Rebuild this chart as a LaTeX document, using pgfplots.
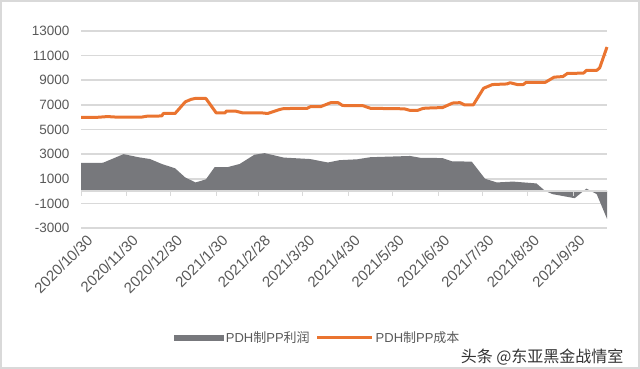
\documentclass[border=0pt]{standalone}
\usepackage{fontspec}
\setmainfont{Liberation Sans}
\newfontfamily\cjk{Noto Sans CJK SC}
\usepackage{pgfplots}
\pgfplotsset{compat=1.18}
\definecolor{cost}{HTML}{EA7430}
\definecolor{profit}{HTML}{77787C}
\definecolor{gridc}{HTML}{D9D9D9}
\definecolor{txt}{HTML}{595959}
\begin{document}
\begin{tikzpicture}
\useasboundingbox (0,0) rectangle (640pt,369pt);
\draw[gray!30, line width=2pt] (1pt,1pt) rectangle (639pt,368pt);
\begin{axis}[
  at={(81pt,141pt)}, anchor=south west,
  scale only axis, width=526pt, height=197pt,
  xmin=0, xmax=358, ymin=-3000, ymax=13000,
  scaled y ticks=false,
  axis line style={draw=none},
  major tick length=0pt,
  ytick={-3000,-1000,1000,3000,5000,7000,9000,11000,13000},
  yticklabels={-3000,-1000,1000,3000,5000,7000,9000,11000,13000},
  ymajorgrids, grid style={gridc, line width=1.6pt},
  xtick={0,31,61,92,121,151,182,212,243,273,304,335},
  xticklabels={2020/10/30,2020/11/30,2020/12/30,2021/1/30,2021/2/28,2021/3/30,2021/4/30,2021/5/30,2021/6/30,2021/7/30,2021/8/30,2021/9/30},
  xticklabel style={rotate=45, anchor=east, font=\fontsize{15}{17}\selectfont, text=txt, xshift=3pt, yshift=-13pt},
  yticklabel style={font=\fontsize{13.5}{15}\selectfont, text=txt, xshift=-8pt},
  legend style={at={(0.45,-0.558)}, anchor=center, draw=none, fill=none,
    font=\fontsize{13}{15}\selectfont, text=txt,
    /tikz/every even column/.append style={column sep=4pt}},
  legend columns=2,
  clip=false,
]
\addplot[fill=profit, draw=none,
  legend image code/.code={\fill[profit] (0pt,-3pt) rectangle (50pt,3pt);}]
  coordinates {(0,0) (0,2280) (15,2300) (22,2650) (29,3000) (39,2750) (47,2600)
  (55,2200) (64,1850) (71,1100) (78,700) (85,950) (91,1950) (100,1950) (108,2200)
  (118,2950) (125,3080) (138,2720) (156,2600) (168,2320) (176,2510) (188,2580)
  (197,2750) (224,2850) (231,2700) (246,2680) (253,2400) (256,2420) (266,2380)
  (275,1000) (283,700) (294,770) (310,620) (316,0) (321,-250) (336,-580)
  (344,200) (351,-250) (358,-2250) (358,0)} \closedcycle;
\addlegendentry{PDH{\cjk 制}PP{\cjk 利润}}
\draw[draw=gridc, line width=1.6pt] (axis cs:0,0) -- (axis cs:358,0);
\pgfplotsinvokeforeach{0,31,61,92,121,151,182,212,243,273,304,335}{
  \draw[gridc, line width=1pt] (axis cs:#1,0) -- ([yshift=-5pt]axis cs:#1,0);
}
\addplot[cost, line width=3pt, line join=round,
  legend image code/.code={\draw[cost, line width=3pt] (0pt,0pt) -- (55pt,0pt);}]
  coordinates {(0,5980) (10,5980) (18,6050) (25,6000) (41,6000) (45,6080) (55,6100)
  (56,6300) (64,6300) (71,7250) (75,7450) (78,7530) (85,7520) (92,6350) (98,6350)
  (99,6500) (105,6500) (110,6350) (123,6350) (127,6300) (135,6620) (138,6700)
  (154,6720) (156,6850) (163,6850) (170,7180) (175,7180) (178,6950) (192,6930)
  (197,6720) (220,6680) (224,6550) (229,6550) (233,6720) (238,6750) (246,6780)
  (253,7150) (258,7180) (261,7000) (267,7000) (274,8350) (280,8650) (290,8700)
  (292,8800) (297,8650) (301,8650) (303,8830) (316,8830) (322,9250) (328,9300)
  (331,9550) (342,9580) (344,9800) (351,9800) (353,10000) (358,11700)};
\addlegendentry{PDH{\cjk 制}PP{\cjk 成本}}
\end{axis}
\node[anchor=east, font=\cjk\fontsize{16}{18}\selectfont, text=black!80] at (627pt,12pt) {头条 @东亚黑金战情室};
\end{tikzpicture}
\end{document}
